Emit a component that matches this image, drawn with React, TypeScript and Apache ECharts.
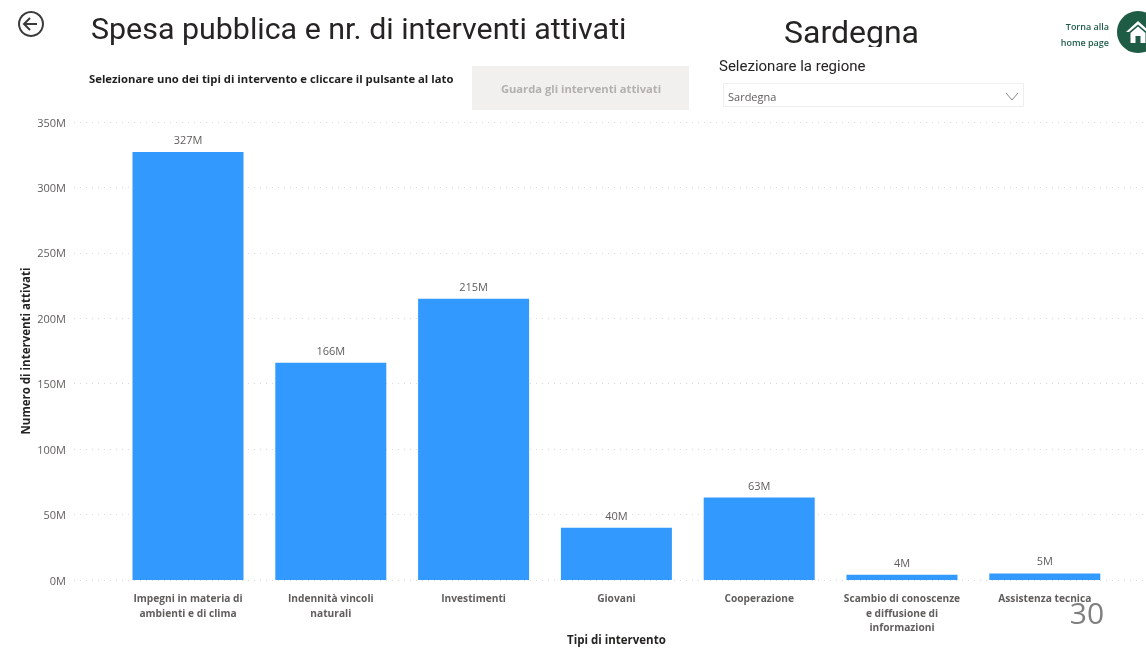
import React, { useEffect, useRef } from "react";
import * as echarts from "echarts";

const categories = [
  "Impegni in materia di\nambienti e di clima",
  "Indennità vincoli\nnaturali",
  "Investimenti",
  "Giovani",
  "Cooperazione",
  "Scambio di conoscenze\ne diffusione di\ninformazioni",
  "Assistenza tecnica",
];
const spesaMilioni = [327, 166, 215, 40, 63, 4, 5];
const yTicks = { min: 0, max: 350, interval: 50 };

const BODY = "'Open Sans', 'Noto Sans', sans-serif";
const HEAD = "Roboto, 'Noto Sans', sans-serif";

echarts.graphic.registerShape(
  "homeIcon",
  echarts.graphic.extendPath("M0 11 L12 0 L24 11 L21 11 L12 3.5 L3 11 Z M4.5 12 L12 5.5 L19.5 12 L19.5 22 L14.5 22 L14.5 15 L9.5 15 L9.5 22 L4.5 22 Z", {})
);

export default function App() {
  const ref = useRef<HTMLDivElement>(null);
  useEffect(() => {
    document.body.style.margin = "0";
    const chart = echarts.init(ref.current!, undefined, { renderer: "svg" });
    const labelGrey = "#605e5c";
    chart.setOption({
      animation: false,
      backgroundColor: "#ffffff",
      grid: [
        { left: 74, right: 0, top: 122, height: 458, outerBoundsMode: "none" },
        { left: 116.6, width: 999.6, top: 122, height: 458, outerBoundsMode: "none" },
      ],
      xAxis: [
        { type: "value", gridIndex: 0, show: false, min: 0, max: 1 },
        {
          type: "category",
          gridIndex: 1,
          data: categories,
          axisLine: { show: false },
          axisTick: { show: false },
          axisLabel: {
            interval: 0,
            margin: 11,
            color: labelGrey,
            fontFamily: BODY,
            fontWeight: 700,
            fontSize: 10.2,
            lineHeight: 14.5,
          },
          name: "Tipi di intervento",
          nameLocation: "middle",
          nameGap: 53,
          nameMoveOverlap: false,
          nameTextStyle: { color: "#252423", fontFamily: BODY, fontWeight: 700, fontSize: 11.5 },
        },
      ],
      yAxis: [
        {
          type: "value",
          gridIndex: 0,
          ...yTicks,
          axisLine: { show: false },
          axisTick: { show: false },
          axisLabel: {
            color: labelGrey,
            fontFamily: BODY,
            fontSize: 11,
            margin: 8,
            formatter: (v: number) => `${v}M`,
          },
          splitLine: { lineStyle: { color: "#d9d9d9", type: [1, 5], width: 1 } },
          name: "Numero di interventi attivati",
          nameLocation: "middle",
          nameGap: 43,
          nameMoveOverlap: false,
          nameTextStyle: { color: "#252423", fontFamily: BODY, fontWeight: 700, fontSize: 11.5 },
        },
        { type: "value", gridIndex: 1, ...yTicks, show: false, splitLine: { show: false } },
      ],
      series: [
        {
          type: "bar",
          xAxisIndex: 1,
          yAxisIndex: 1,
          data: spesaMilioni,
          barWidth: 111,
          itemStyle: { color: "#3299ff" },
          label: {
            show: true,
            position: "top",
            distance: 7,
            color: labelGrey,
            fontFamily: BODY,
            fontSize: 11,
            formatter: (p: any) => `${p.value}M`,
          },
        },
      ],
      graphic: [
        { type: "ring", shape: { cx: 31, cy: 24, r: 13, r0: 11 }, style: { fill: "#3b3b3b" } },
        { type: "polyline", shape: { points: [[37, 24], [24, 24]] }, style: { stroke: "#3b3b3b", lineWidth: 2, fill: "none" } },
        { type: "polyline", shape: { points: [[30, 18], [24, 24], [30, 30]] }, style: { stroke: "#3b3b3b", lineWidth: 2, fill: "none" } },
        { type: "text", x: 91, y: 13, style: { text: "Spesa pubblica e nr. di interventi attivati", fill: "#252423", fontFamily: HEAD, fontSize: 30.4 } },
        { type: "text", x: 784, y: 16, style: { text: "Sardegna", fill: "#252423", fontFamily: HEAD, fontSize: 32 } },
        { type: "rect", shape: { x: 770, y: 47, width: 170, height: 8 }, style: { fill: "#ffffff" } },
        { type: "text", x: 89, y: 73, style: { text: "Selezionare uno dei tipi di intervento e cliccare il pulsante al lato", fill: "#1f1f1f", fontFamily: BODY, fontWeight: 700, fontSize: 11.3 } },
        { type: "rect", shape: { x: 472, y: 66, width: 217, height: 44 }, style: { fill: "#f1f0ef" } },
        { type: "text", x: 581, y: 88, style: { text: "Guarda gli interventi attivati", fill: "#b3b0ad", fontFamily: BODY, fontWeight: 700, fontSize: 11.2, align: "center", verticalAlign: "middle" } },
        { type: "text", x: 719, y: 58, style: { text: "Selezionare la regione", fill: "#252423", fontFamily: HEAD, fontSize: 15 } },
        { type: "rect", shape: { x: 723.5, y: 83.5, width: 300, height: 23 }, style: { fill: "#ffffff", stroke: "#eeeeee", lineWidth: 1 } },
        { type: "text", x: 728, y: 91, style: { text: "Sardegna", fill: "#605e5c", fontFamily: BODY, fontSize: 11 } },
        { type: "polyline", shape: { points: [[1006, 93], [1012, 100], [1018, 93]] }, style: { stroke: "#8a8886", lineWidth: 1, fill: "none" } },
        { type: "text", x: 1109, y: 26, style: { text: "Torna alla", fill: "#1f5c46", fontFamily: BODY, fontWeight: 600, fontSize: 9, align: "right", verticalAlign: "middle" } },
        { type: "text", x: 1109, y: 42, style: { text: "home page", fill: "#1f5c46", fontFamily: BODY, fontWeight: 600, fontSize: 9, align: "right", verticalAlign: "middle" } },
        { type: "circle", shape: { cx: 1138, cy: 32, r: 21 }, style: { fill: "#1f5c46" } },
        { type: "homeIcon", x: 1126, y: 21, style: { fill: "#ffffff" } },
        { type: "text", x: 1087, y: 612, z: 100, style: { text: "30", fill: "#7f7f7f", fontFamily: "'Open Sans', sans-serif", fontSize: 30, align: "center", verticalAlign: "middle" } },
      ],
    });
    return () => chart.dispose();
  }, []);
  return <div ref={ref} style={{ width: 1146, height: 649, filter: "blur(0.35px)" }} />;
}
